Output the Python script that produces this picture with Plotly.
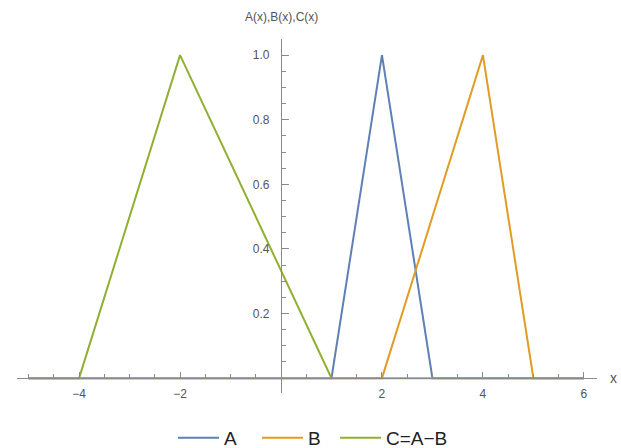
import plotly.graph_objects as go

# Data
a_x = [-5, 1, 2, 3, 6]
a_y = [0, 0, 1, 0, 0]
b_x = [-5, 2, 4, 5, 6]
b_y = [0, 0, 1, 0, 0]
c_x = [-5, -4, -2, 1, 6]
c_y = [0, 0, 1, 0, 0]
names = ["A", "B", "C=A\u2212B"]
colors = ["#5E81B5", "#E19C24", "#8FB032"]
x_ticks = [-4, -2, 2, 4, 6]
y_ticks = [0.2, 0.4, 0.6, 0.8, 1.0]
y_tick_text = ["0.2", "0.4", "0.6", "0.8", "1.0"]

x_range = [-5.23, 6.26]
y_range = [-0.046, 1.05]

legend_ids = ["legend", "legend2", "legend3"]
legend_left_px = [173, 257, 335]

fig = go.Figure()
for xs, ys, nm, col, lg in zip([a_x, b_x, c_x], [a_y, b_y, c_y], names, colors, legend_ids):
    fig.add_trace(go.Scatter(x=xs, y=ys, mode="lines", name=nm, legend=lg,
                             line=dict(color=col, width=2), cliponaxis=False))

axis_col = "#8a8a8a"
font_fam = "Liberation Sans, Arial, sans-serif"
tick_font = dict(family=font_fam, size=12, color="#555555")

legend_common = dict(orientation="h", xanchor="left", xref="container",
                     y=(448 - 438) / 448, yanchor="middle", yref="container",
                     font=dict(family=font_fam, size=19, color="#222222"),
                     itemwidth=41, bgcolor="rgba(0,0,0,0)", borderwidth=0)

layout_legends = {}
for lg, px in zip(legend_ids, legend_left_px):
    layout_legends[lg] = dict(legend_common, x=px / 621)

fig.update_layout(
    width=621, height=448,
    margin=dict(l=17, r=24, t=39, b=55, autoexpand=False),
    paper_bgcolor="white", plot_bgcolor="white",
    showlegend=True,
    **layout_legends,
    xaxis=dict(range=x_range, anchor="free", position=-y_range[0] / (y_range[1] - y_range[0]),
               showgrid=False, zeroline=False, showline=True, linecolor=axis_col, linewidth=1.3,
               tickmode="array", tickvals=x_ticks,
               ticktext=[("\u2212" + str(-v)) if v < 0 else str(v) for v in x_ticks],
               ticks="inside", ticklen=6, tickcolor=axis_col, tickwidth=1,
               ticklabelstandoff=4,
               minor=dict(ticks="inside", tickmode="linear", tick0=0, dtick=0.5, ticklen=3.5,
                          tickcolor=axis_col, tickwidth=1, showgrid=False),
               tickfont=tick_font, fixedrange=True),
    yaxis=dict(range=y_range, anchor="free", position=-x_range[0] / (x_range[1] - x_range[0]),
               showgrid=False, zeroline=False, showline=True, linecolor=axis_col, linewidth=1.3,
               tickmode="array", tickvals=y_ticks, ticktext=y_tick_text,
               ticks="inside", ticklen=7, tickcolor=axis_col, tickwidth=1,
               ticklabelstandoff=9,
               minor=dict(ticks="inside", tickmode="linear", tick0=0, dtick=0.05, ticklen=4,
                          tickcolor=axis_col, tickwidth=1, showgrid=False),
               tickfont=tick_font, fixedrange=True),
    annotations=[
        dict(text="A(x),B(x),C(x)", xref="x", x=0, yref="paper", y=1.062, showarrow=False,
             xanchor="center", yanchor="middle",
             font=dict(family=font_fam, size=12, color="#555555")),
        dict(text="x", xref="paper", x=1.028, yref="y", y=0, showarrow=False,
             xanchor="center", yanchor="middle",
             font=dict(family=font_fam, size=14, color="#555555")),
    ],
)

fig.write_html("out.html")
